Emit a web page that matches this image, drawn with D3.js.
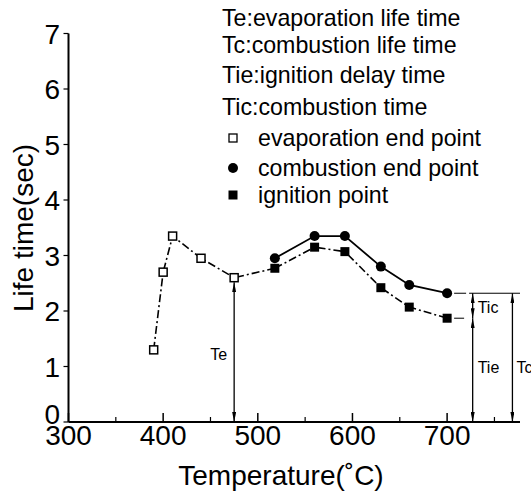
<!DOCTYPE html>
<html>
<head>
<meta charset="utf-8">
<script src="https://cdn.jsdelivr.net/npm/d3@7"></script>
<style>
  html, body { margin: 0; padding: 0; background: #fff; }
  svg { display: block; font-family: "Liberation Sans", Arial, Helvetica, sans-serif; }
</style>
</head>
<body>
<svg id="chart" width="531" height="492"></svg>
<script>
// ---------- data ----------
const evapTemps = [390, 400, 410, 440, 475];
const evapLife  = [1.3, 2.7, 3.35, 2.95, 2.6];
const ignTemps  = [518, 560, 592, 630, 660, 700];
const ignLife   = [2.77, 3.15, 3.07, 2.42, 2.07, 1.87];
const combTemps = [518, 560, 592, 630, 660, 700];
const combLife  = [2.95, 3.35, 3.35, 2.8, 2.47, 2.32];
const xTickValues = [300, 400, 500, 600, 700];
const xMinorTicks = [350, 450, 550, 650, 750];
const yTickValues = [0, 1, 2, 3, 4, 5, 6, 7];
const headerLines = ["Te:evaporation life time", "Tc:combustion life time", "Tie:ignition delay time", "Tic:combustion time"];
const legendLabels = ["evaporation end point", "combustion end point", "ignition point"];
const xTitle = "Temperature(\u02DAC)";
const yTitle = "Life time(sec)";
const tieTemp = 727;   // position of Tic / Tie arrows
const tcTemp = 769;    // position of Tc arrow

// ---------- scales ----------
const svg = d3.select("#chart");
const x = d3.scaleLinear().domain([300, 777]).range([68.5, 520]);
const y = d3.scaleLinear().domain([0, 7]).range([422, 33.5]);

// ---------- axes ----------
const g = svg.append("g");
g.append("line").attr("x1", x(300)).attr("x2", x(300)).attr("y1", y(7)).attr("y2", y(0))
  .attr("stroke", "#000").attr("stroke-width", 2);
g.append("line").attr("x1", x(300)).attr("x2", x(777)).attr("y1", y(0)).attr("y2", y(0))
  .attr("stroke", "#000").attr("stroke-width", 2);

// y ticks (outward left)
g.selectAll(".ytick").data(yTickValues).enter().append("line")
  .attr("x1", x(300) - 5).attr("x2", x(300)).attr("y1", d => y(d)).attr("y2", d => y(d))
  .attr("stroke", "#000").attr("stroke-width", 1.2);
g.selectAll(".ylab").data(yTickValues).enter().append("text")
  .attr("x", 60).attr("y", d => y(d) - (d === 0 ? 8 : 0)).attr("dy", "0.36em")
  .attr("text-anchor", "end").attr("font-size", 28).text(d => d);

// x ticks (inward up)
g.selectAll(".xtick").data(xTickValues).enter().append("line")
  .attr("x1", d => x(d)).attr("x2", d => x(d)).attr("y1", y(0)).attr("y2", y(0) - 9)
  .attr("stroke", "#000").attr("stroke-width", 1.5);
g.selectAll(".xminor").data(xMinorTicks).enter().append("line")
  .attr("x1", d => x(d)).attr("x2", d => x(d)).attr("y1", y(0)).attr("y2", y(0) - 5)
  .attr("stroke", "#000").attr("stroke-width", 1.2);
g.selectAll(".xlab").data(xTickValues).enter().append("text")
  .attr("x", d => x(d)).attr("y", 445)
  .attr("text-anchor", "middle").attr("font-size", 28).text(d => d);

// axis titles
svg.append("text").attr("x", 281).attr("y", 485).attr("text-anchor", "middle")
  .attr("font-size", 28).text(xTitle);
svg.append("text").attr("transform", "translate(33,228) rotate(-90)")
  .attr("text-anchor", "middle").attr("font-size", 28).text(yTitle);

// ---------- lines ----------
const line = d3.line().x(d => x(d[0])).y(d => y(d[1]));
const evapPts = evapTemps.map((t, i) => [t, evapLife[i]]);
const ignPts = ignTemps.map((t, i) => [t, ignLife[i]]);
const combPts = combTemps.map((t, i) => [t, combLife[i]]);

svg.append("path").attr("d", line(evapPts.concat([ignPts[0]])))
  .attr("fill", "none").attr("stroke", "#000").attr("stroke-width", 1.6)
  .attr("stroke-dasharray", "8,3,2,3");
svg.append("path").attr("d", line(ignPts))
  .attr("fill", "none").attr("stroke", "#000").attr("stroke-width", 1.6)
  .attr("stroke-dasharray", "8,3,2,3");
svg.append("path").attr("d", line(combPts))
  .attr("fill", "none").attr("stroke", "#000").attr("stroke-width", 1.8);

// reference horizontal lines at 700 level
const lastComb = combPts[combPts.length - 1];
const lastIgn = ignPts[ignPts.length - 1];
svg.append("line").attr("x1", x(lastComb[0]) + 7).attr("x2", x(777))
  .attr("y1", y(lastComb[1])).attr("y2", y(lastComb[1]))
  .attr("stroke", "#000").attr("stroke-width", 1).attr("stroke-dasharray", "12,3,200");
svg.append("line").attr("x1", x(lastIgn[0]) + 7).attr("x2", x(lastIgn[0]) + 17)
  .attr("y1", y(lastIgn[1])).attr("y2", y(lastIgn[1]))
  .attr("stroke", "#000").attr("stroke-width", 1);

// ---------- markers ----------
svg.selectAll(".evap").data(evapPts).enter().append("rect")
  .attr("x", d => x(d[0]) - 4).attr("y", d => y(d[1]) - 4).attr("width", 8).attr("height", 8)
  .attr("fill", "#fff").attr("stroke", "#000").attr("stroke-width", 1.5);
svg.selectAll(".ign").data(ignPts).enter().append("rect")
  .attr("x", d => x(d[0]) - 4.5).attr("y", d => y(d[1]) - 4.5).attr("width", 9).attr("height", 9)
  .attr("fill", "#000");
svg.selectAll(".comb").data(combPts).enter().append("circle")
  .attr("cx", d => x(d[0])).attr("cy", d => y(d[1])).attr("r", 5)
  .attr("fill", "#000");

// ---------- arrows ----------
const defs = svg.append("defs");
defs.append("marker").attr("id", "ah").attr("viewBox", "0 0 10 4")
  .attr("refX", 10).attr("refY", 2).attr("markerWidth", 10).attr("markerHeight", 4)
  .attr("markerUnits", "userSpaceOnUse").attr("orient", "auto-start-reverse")
  .append("path").attr("d", "M0,0 L10,2 L0,4 Z").attr("fill", "#000");

function arrow(t, v1, v2) {
  svg.append("line").attr("x1", x(t)).attr("x2", x(t)).attr("y1", y(v1)).attr("y2", y(v2))
    .attr("stroke", "#000").attr("stroke-width", 1.3)
    .attr("marker-start", "url(#ah)").attr("marker-end", "url(#ah)");
}
const lastEvap = evapPts[evapPts.length - 1];
arrow(lastEvap[0], lastEvap[1] - 0.08, 0);
arrow(tieTemp, lastComb[1], lastIgn[1]);
arrow(tieTemp, lastIgn[1], 0);
arrow(tcTemp, lastComb[1], 0);

// annotation labels
const ann = svg.append("g").attr("font-family", "'Liberation Sans Narrow', 'Liberation Sans', Arial, sans-serif")
  .attr("font-size", 16);
ann.append("text").attr("x", x(lastEvap[0]) - 24).attr("y", 360).text("Te");
ann.append("text").attr("x", x(tieTemp) + 5).attr("y", 313).text("Tic");
ann.append("text").attr("x", x(tieTemp) + 5).attr("y", 373).text("Tie");
ann.append("text").attr("x", x(tcTemp) + 4).attr("y", 373).text("Tc");

// ---------- legend ----------
const headerY = [26, 53, 83, 115];
svg.selectAll(".hdr").data(headerLines).enter().append("text")
  .attr("x", 222).attr("y", (d, i) => headerY[i]).attr("font-size", 23.2).text(d => d);

const legY = [138, 168, 195];
const leg = svg.append("g");
leg.append("rect").attr("x", 229).attr("y", legY[0] - 4).attr("width", 8).attr("height", 8)
  .attr("fill", "#fff").attr("stroke", "#000").attr("stroke-width", 1.3);
leg.append("circle").attr("cx", 233).attr("cy", legY[1]).attr("r", 5).attr("fill", "#000");
leg.append("rect").attr("x", 228.5).attr("y", legY[2] - 4.5).attr("width", 9).attr("height", 9).attr("fill", "#000");
leg.selectAll(".ll").data(legendLabels).enter().append("text")
  .attr("x", 258).attr("y", (d, i) => legY[i]).attr("dy", "0.33em")
  .attr("font-size", 23.2).text(d => d);
</script>
</body>
</html>
